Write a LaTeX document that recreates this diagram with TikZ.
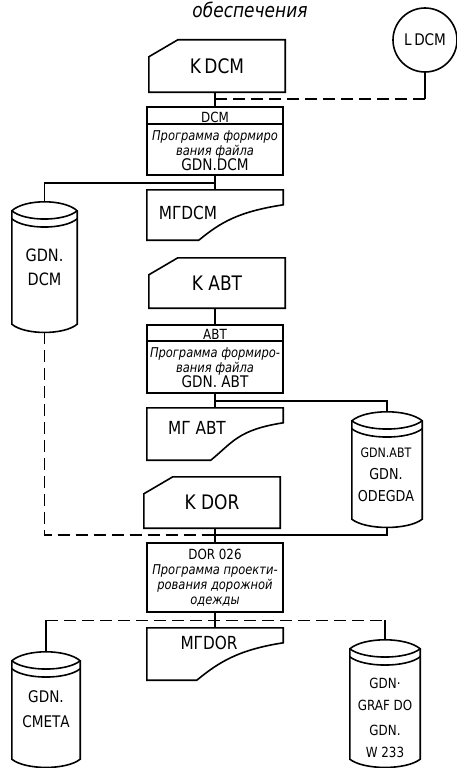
\documentclass[tikz,border=0pt]{standalone}
\usepackage{fontspec}
\setmainfont{DejaVu Sans}
\newfontfamily\lbl[FakeStretch=0.85]{DejaVu Sans}
\usetikzlibrary{calc,positioning}

\tikzset{
  link/.style={line width=1.6pt},
  dlink/.style={line width=1.6pt, dash pattern=on 12pt off 6pt},
  card/.style={minimum width=136pt, minimum height=52pt, inner sep=0pt, font=\lbl\fontsize{20}{22}\selectfont},
  progbox/.style={draw, line width=1.6pt, minimum width=136pt, minimum height=68pt, inner sep=1pt, align=center, font=\lbl\fontsize{13.5}{15}\selectfont},
  drum/.style={inner sep=0pt, align=center, font=\lbl\fontsize{17}{24}\selectfont},
  tag/.style={font=\lbl\fontsize{18}{20}\selectfont}
}

\begin{document}
\begin{tikzpicture}[x=1pt, y=-1pt]
\path[use as bounding box, fill=white] (0,0) rectangle (457,768);

% heading and library
\node[font=\lbl\itshape\fontsize{20}{22}\selectfont, anchor=base] (title) at (250,18) {обеспечения};
\node[draw, circle, link, minimum size=64pt, inner sep=0pt, font=\lbl\fontsize{16}{18}\selectfont] (ldcm) at (425,40) {L\,DCM};

% main column
\node[card] (kdcm) at (217,66) {K\,DCM};
\node[progbox] (dcm) at (215,141) {\fontsize{14}{15}\selectfont DCM\\[3pt]
  \itshape Программа формиро\\\itshape вания файла\\\fontsize{16}{16}\selectfont GDN.DCM};
\node[card, minimum height=50pt] (mgdcm) at (215,215) {};
\node[tag] (mgdcmtxt) at (188,213) {МГDCM};

\node[card, minimum height=50pt] (kabt) at (217,283) {K АВТ};
\node[progbox] (abt) at (215,359) {\fontsize{14}{15}\selectfont АВТ\\[3pt]
  \itshape Программа формиро-\\\itshape вания файла\\\fontsize{16}{16}\selectfont GDN. АВТ};
\node[card] (mgabt) at (215,434) {};
\node[tag] (mgabttxt) at (197,428) {МГ АВТ};

\node[card, minimum height=51pt] (kdor) at (212,502.5) {K DOR};
\node[progbox, minimum height=69pt] (dor) at (215,577.5) {\fontsize{14}{15}\selectfont DOR 026\\
  \itshape Программа проекти-\\\itshape рования дорожной\\\itshape одежды};
\node[card] (mgdor) at (215,654) {};
\node[tag] (mgdortxt) at (209,643) {МГDOR};

% files
\node[drum, minimum width=65pt, minimum height=130pt] (gdndcm) at (44.5,267) {GDN.\\DCM};
\node[drum, minimum width=70pt, minimum height=115pt] (gdnabt) at (387,469.5) {};
\node[drum, font=\lbl\fontsize{15}{22}\selectfont] (gdnabttxt) at (386,475) {\fontsize{13}{22}\selectfont GDN.АВТ\\GDN.\\ODEGDA};
\node[drum, minimum width=68pt, minimum height=115pt, font=\lbl\fontsize{16}{25}\selectfont] (smeta) at (46,709.5) {GDN.\\СМЕТА};
\node[drum, minimum width=70pt, minimum height=127pt] (graf) at (385,703.5) {};
\node[drum, font=\lbl\fontsize{14}{22}\selectfont] (graftxt) at (385,718) {GDN·\\GRAF DO\\[3pt]GDN.\\W 233};

% outlines
\foreach \c in {kdcm,kabt,kdor}
  \draw[link] ($(\c.north west)+(0,17)$) -- ($(\c.north west)+(29,0)$) -- (\c.north east) -- (\c.south east) -- (\c.south west) -- cycle;
\foreach \c/\b in {mgdcm/52,mgabt/64,mgdor/50}
  \draw[link] (\c.south west) -- (\c.north west) -- (\c.north east) -- ($(\c.north east)+(0,15)$)
    .. controls ($(\c.north east)+(-45,22)$) and ($(\c.south west)+(\b+22,-18)$) .. ($(\c.south west)+(\b,0)$) -- cycle;
\foreach \c in {gdndcm,gdnabt,smeta,graf}{
  \draw[link] ($(\c.north west)+(0,9)$) .. controls ($(\c.north west)!0.2!(\c.north east)+(0,-3)$) and ($(\c.north west)!0.8!(\c.north east)+(0,-3)$) .. ($(\c.north east)+(0,9)$)
    -- ($(\c.south east)+(0,-8)$) .. controls ($(\c.south west)!0.8!(\c.south east)+(0,3)$) and ($(\c.south west)!0.2!(\c.south east)+(0,3)$) .. ($(\c.south west)+(0,-8)$) -- cycle;
  \draw[link] ($(\c.north west)+(0,9)$) .. controls ($(\c.north west)!0.2!(\c.north east)+(0,20)$) and ($(\c.north west)!0.8!(\c.north east)+(0,20)$) .. ($(\c.north east)+(0,9)$);
  \draw[link] ($(\c.north west)+(0,17)$) .. controls ($(\c.north west)!0.2!(\c.north east)+(0,28)$) and ($(\c.north west)!0.8!(\c.north east)+(0,28)$) .. ($(\c.north east)+(0,17)$);
}
\draw[link] ($(dcm.north west)+(0,18)$) -- ($(dcm.north east)+(0,18)$);
\draw[link] ($(abt.north west)+(0,17)$) -- ($(abt.north east)+(0,17)$);

% connectors
\coordinate (j1) at ($(kdcm.south)!0.5!(dcm.north)$);
\coordinate (j2) at ($(dcm.south)!0.5!(mgdcm.north)$);
\coordinate (j3) at ($(abt.south)!0.5!(mgabt.north)$);
\coordinate (j4) at ($(kdor.south)!0.5!(dor.north)$);
\coordinate (j5) at ($(dor.south)!0.5!(mgdor.north)$);
\draw[link] (dcm.north |- kdcm.south) -- (dcm.north);
\draw[link] (ldcm.south) -- (ldcm.south |- j1);
\draw[dlink] (ldcm.south |- j1) -- (dcm.north |- j1);
\draw[link] (dcm.south) -- (mgdcm.north);
\draw[link] (dcm.south |- j2) -| (gdndcm.north);
\draw[link] (abt.north |- kabt.south) -- (abt.north);
\draw[link] (abt.south) -- (mgabt.north);
\draw[link] (j3) -| (gdnabt.north);
\draw[link] (dor.north |- kdor.south) -- (dor.north);
\draw[dlink] (gdndcm.south) |- (dor.north |- j4);
\draw[link] (gdnabt.south) |- (dor.north |- j4);
\draw[link] (dor.south) -- (mgdor.north);
\draw[link] (smeta.north) -- (smeta.north |- j5);
\draw[dlink] (smeta.north |- j5) -- (graf.north |- j5);
\draw[link] (graf.north |- j5) -- (graf.north);
\end{tikzpicture}
\end{document}
